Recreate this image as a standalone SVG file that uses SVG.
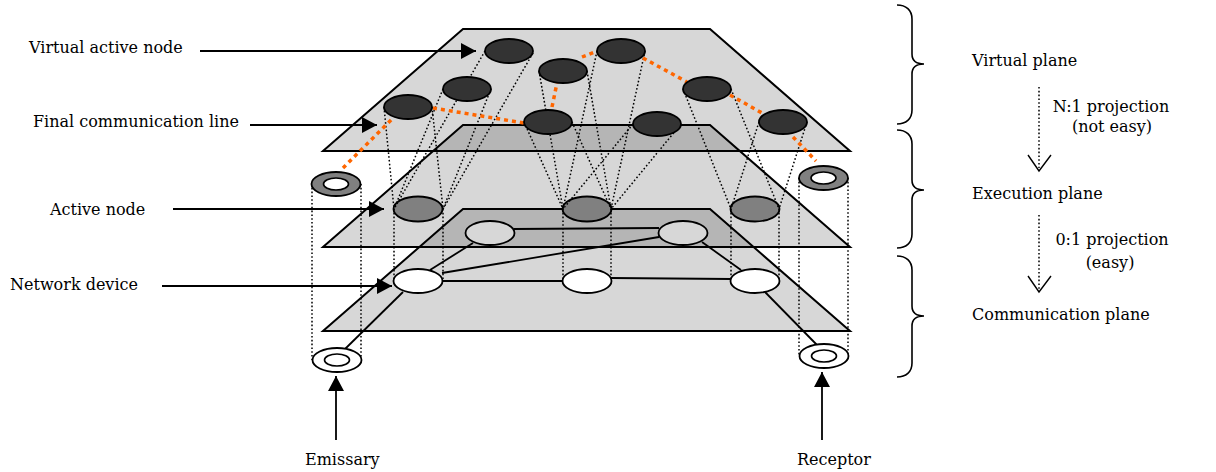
<svg xmlns="http://www.w3.org/2000/svg" width="1216" height="472" viewBox="0 0 1216 472">
<style>
.plane{fill:#000;fill-opacity:.155;stroke:#000;stroke-width:2;stroke-linejoin:miter}
.vn{fill:#333;stroke:#000;stroke-width:1.8}
.an{fill:#808080;stroke:#000;stroke-width:1.8}
.nd{fill:#fff;stroke:#000;stroke-width:1.8}
.hole{fill:#fff;stroke:#000;stroke-width:1.6}
.link{stroke:#000;stroke-width:1.8;fill:none}
.proj{stroke:#000;stroke-width:1.5;stroke-dasharray:1.6 2.2;fill:none}
.fcl{stroke:#ff6600;stroke-width:3.5;stroke-dasharray:4 4;fill:none}
.lbl{font-family:"DejaVu Serif","Liberation Serif",serif;font-size:16px;fill:#000}
.arr{stroke:#000;stroke-width:1.8;fill:none;marker-end:url(#ah)}
.brace{stroke:#000;stroke-width:1.6;fill:none}
.v{stroke:#000;stroke-width:1.4;fill:none}
</style>
<defs>
<marker id="ah" markerWidth="15" markerHeight="16" refX="15" refY="8" orient="auto" markerUnits="userSpaceOnUse">
<path d="M0,0 L15,8 L0,16 Z" fill="#000"/>
</marker>
</defs>

<!-- Communication plane -->
<g id="plane-communication"><polygon class="plane" points="463,209 710,209 850,331 323,331"/></g>
<g id="connectors-communication">
<line class="link" x1="514" y1="229" x2="659" y2="228"/>
<line class="link" x1="442" y1="273" x2="659" y2="237"/>
<line class="link" x1="473" y1="243" x2="430" y2="270"/>
<line class="link" x1="442" y1="281" x2="563" y2="281"/>
<line class="link" x1="611" y1="278" x2="731" y2="279"/>
<line class="link" x1="702" y1="242" x2="741" y2="270"/>
<line class="link" x1="765" y1="292" x2="817" y2="345"/>
<line class="link" x1="403" y1="292" x2="345" y2="349"/>
</g>
<g id="device-1"><ellipse class="nd" cx="490" cy="233" rx="24.5" ry="12"/></g>
<g id="device-2"><ellipse class="nd" cx="683" cy="233" rx="24.5" ry="12"/></g>
<g id="device-3"><ellipse class="nd" cx="418" cy="281" rx="24.5" ry="12"/></g>
<g id="device-4"><ellipse class="nd" cx="587" cy="281" rx="24.5" ry="12"/></g>
<g id="device-5"><ellipse class="nd" cx="755" cy="281" rx="24.5" ry="12"/></g>

<!-- Execution plane -->
<g id="plane-execution"><polygon class="plane" points="463,125 710,125 850,247 323,247"/></g>
<g id="active-1"><ellipse class="an" cx="418" cy="209" rx="24.5" ry="12.5"/></g>
<g id="active-2"><ellipse class="an" cx="587" cy="209" rx="24.5" ry="12.5"/></g>
<g id="active-3"><ellipse class="an" cx="755" cy="209" rx="24.5" ry="12.5"/></g>

<!-- Virtual plane -->
<g id="plane-virtual"><polygon class="plane" points="463,29 710,29 850,151 323,151"/></g>

<g id="connectors-projection">
<line class="proj" x1="485" y1="51" x2="394" y2="209"/>
<line class="proj" x1="533" y1="53" x2="443" y2="209"/>
<line class="proj" x1="443" y1="89" x2="394" y2="209"/>
<line class="proj" x1="491" y1="89" x2="443" y2="209"/>
<line class="proj" x1="384" y1="107" x2="394" y2="209"/>
<line class="proj" x1="432" y1="107" x2="443" y2="209"/>
<line class="proj" x1="539" y1="71" x2="563" y2="209"/>
<line class="proj" x1="587" y1="71" x2="611" y2="209"/>
<line class="proj" x1="524" y1="122" x2="563" y2="209"/>
<line class="proj" x1="572" y1="122" x2="611" y2="209"/>
<line class="proj" x1="597" y1="51" x2="563" y2="209"/>
<line class="proj" x1="645" y1="51" x2="611" y2="209"/>
<line class="proj" x1="633" y1="124" x2="563" y2="209"/>
<line class="proj" x1="681" y1="124" x2="611" y2="209"/>
<line class="proj" x1="683" y1="89" x2="731" y2="209"/>
<line class="proj" x1="731" y1="89" x2="779" y2="209"/>
<line class="proj" x1="759" y1="122" x2="731" y2="209"/>
<line class="proj" x1="807" y1="122" x2="779" y2="209"/>
<line class="proj" x1="394" y1="209" x2="394" y2="281"/>
<line class="proj" x1="443" y1="209" x2="443" y2="281"/>
<line class="proj" x1="563" y1="209" x2="563" y2="281"/>
<line class="proj" x1="611" y1="209" x2="611" y2="281"/>
<line class="proj" x1="731" y1="209" x2="731" y2="281"/>
<line class="proj" x1="779" y1="209" x2="779" y2="281"/>
<line class="proj" x1="312" y1="184" x2="312" y2="360"/>
<line class="proj" x1="361" y1="184" x2="361" y2="360"/>
<line class="proj" x1="799" y1="178" x2="799" y2="356"/>
<line class="proj" x1="848" y1="178" x2="848" y2="356"/>
</g>

<g id="connectors-final-line">
<polyline class="fcl" points="343,168 394,117"/>
<polyline class="fcl" points="433,108 524,123"/>
<polyline class="fcl" points="552,107 557,83"/>
<polyline class="fcl" points="582,57 597,51"/>
<polyline class="fcl" points="643,58 687,82"/>
<polyline class="fcl" points="730,95 762,113"/>
<polyline class="fcl" points="793,137 816,161"/>
</g>

<g id="virtual-A"><ellipse class="vn" cx="509" cy="51" rx="24" ry="12"/></g>
<g id="virtual-B"><ellipse class="vn" cx="563" cy="71" rx="24" ry="12"/></g>
<g id="virtual-C"><ellipse class="vn" cx="467" cy="89" rx="24" ry="12"/></g>
<g id="virtual-D"><ellipse class="vn" cx="408" cy="107" rx="24" ry="12"/></g>
<g id="virtual-E"><ellipse class="vn" cx="548" cy="122" rx="24" ry="12"/></g>
<g id="virtual-F"><ellipse class="vn" cx="621" cy="51" rx="24" ry="12"/></g>
<g id="virtual-G"><ellipse class="vn" cx="707" cy="89" rx="24" ry="12"/></g>
<g id="virtual-H"><ellipse class="vn" cx="657" cy="124" rx="24" ry="12"/></g>
<g id="virtual-I"><ellipse class="vn" cx="783" cy="122" rx="24" ry="12"/></g>

<g id="emissary-exec"><ellipse class="an" cx="336" cy="184" rx="24.5" ry="12"/><ellipse class="hole" cx="336" cy="184" rx="12.5" ry="6"/></g>
<g id="receptor-exec"><ellipse class="an" cx="823.5" cy="178" rx="24.5" ry="12"/><ellipse class="hole" cx="823.5" cy="178" rx="12.5" ry="6"/></g>
<g id="emissary"><ellipse class="nd" cx="337" cy="360" rx="24.5" ry="12"/><ellipse class="hole" cx="337" cy="360" rx="12.5" ry="6"/></g>
<g id="receptor"><ellipse class="nd" cx="824" cy="356" rx="24.5" ry="12"/><ellipse class="hole" cx="824" cy="356" rx="12.5" ry="6"/></g>

<g id="labels-left">
<text class="lbl" x="29" y="53">Virtual active node</text>
<text class="lbl" x="33" y="127">Final communication line</text>
<text class="lbl" x="50" y="215">Active node</text>
<text class="lbl" x="10" y="290">Network device</text>
<text class="lbl" x="305" y="465">Emissary</text>
<text class="lbl" x="797" y="465">Receptor</text>
</g>
<g id="connectors-callouts">
<line class="arr" x1="200" y1="51" x2="476" y2="51"/>
<line class="arr" x1="250" y1="125" x2="377" y2="125"/>
<line class="arr" x1="173" y1="209" x2="384" y2="209"/>
<line class="arr" x1="162" y1="286" x2="392" y2="286"/>
<line class="arr" x1="336" y1="440" x2="336" y2="376"/>
<line class="arr" x1="822" y1="440" x2="822" y2="372"/>
</g>

<g id="braces">
<path class="brace" d="M897,5 C906,5 912,10 912,19 L912,54 C912,60 916,64 924,64 C916,64 912,68 912,74 L912,110 C912,119 906,124 897,124"/>
<path class="brace" d="M897,130 C906,130 912,135 912,144 L912,180 C912,186 916,190 924,190 C916,190 912,194 912,200 L912,234 C912,243 906,248 897,248"/>
<path class="brace" d="M897,256 C906,256 912,261 912,270 L912,306 C912,312 916,316 924,316 C916,316 912,320 912,326 L912,363 C912,372 906,377 897,377"/>
</g>
<g id="labels-right">
<text class="lbl" x="972" y="66">Virtual plane</text>
<text class="lbl" x="1111" y="112" text-anchor="middle">N:1 projection</text>
<text class="lbl" x="1112" y="132" text-anchor="middle">(not easy)</text>
<text class="lbl" x="972" y="199">Execution plane</text>
<text class="lbl" x="1112" y="245" text-anchor="middle">0:1 projection</text>
<text class="lbl" x="1110" y="268" text-anchor="middle">(easy)</text>
<text class="lbl" x="972" y="320">Communication plane</text>
</g>
<g id="connectors-projection-arrows">
<line class="proj" x1="1039" y1="87" x2="1039" y2="168"/>
<polyline class="v" points="1028,155 1039,171 1051,155"/>
<line class="proj" x1="1039" y1="215" x2="1039" y2="290"/>
<polyline class="v" points="1028,276 1039,292 1051,276"/>
</g>
</svg>
